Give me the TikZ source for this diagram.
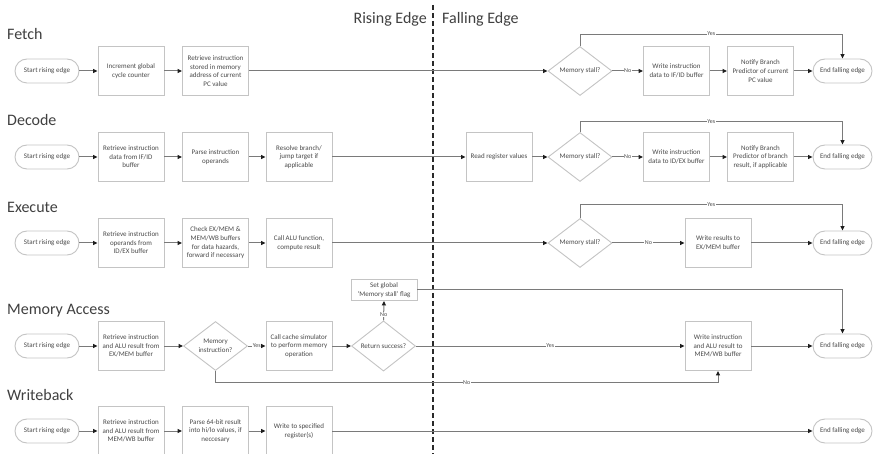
\documentclass[tikz,border=0pt]{standalone}
\usepackage{fontspec}
\setmainfont{Carlito}
\usetikzlibrary{shapes.geometric,shapes.misc,arrows.meta}

\definecolor{boxline}{HTML}{C4C4C4}
\definecolor{flowline}{HTML}{7A7A7A}
\definecolor{tipcol}{HTML}{1E1E1E}
\definecolor{txt}{HTML}{4A4A4A}
\definecolor{head}{HTML}{404040}
\definecolor{divider}{HTML}{2A2A2A}

\begin{document}
\begin{tikzpicture}[x=1pt,y=-1pt,
  every node/.style={text=txt},
  small/.style={font=\fontsize{7}{8.6}\selectfont},
  proc/.style={small, draw=boxline, line width=0.9pt, rectangle,
    minimum width=66pt, minimum height=49pt, align=center, inner sep=1pt},
  startbox/.style={small, draw=boxline, line width=0.9pt, rounded rectangle,
    minimum width=66pt, minimum height=24pt, inner sep=1pt},
  endbox/.style={startbox, minimum width=61pt},
  decision/.style={small, draw=boxline, line width=0.9pt, diamond,
    minimum width=64pt, minimum height=49pt, inner sep=0pt, align=center},
  flow/.style={draw=flowline, line width=1pt,
    -{Triangle[length=4.5pt,width=4pt,color=tipcol]}},
  lbl/.style={font=\fontsize{6}{7}\selectfont, fill=white, inner sep=0.6pt},
  title/.style={font=\fontsize{16}{18}\selectfont, text=head, inner sep=0pt}
]
% canvas
\fill[white] (0,0) rectangle (878,454);
\useasboundingbox (0,0) rectangle (878,454);

% clock-edge divider
\coordinate (divtop) at (433,5);
\coordinate (divbot) at (433,454);
\draw[divider, line width=1.7pt, dash pattern=on 5pt off 3pt] (divtop) -- (divbot);
\node[title, anchor=base east] (rising) at (427,24) {Rising Edge};
\node[title, anchor=base west] (falling) at (442,24) {Falling Edge};

% stage titles
\node[title, anchor=base west] (tF) at (7,40) {Fetch};
\node[title, anchor=base west] (tD) at (7,125.5) {Decode};
\node[title, anchor=base west] (tE) at (7,213) {Execute};
\node[title, anchor=base west] (tM) at (7,315) {Memory Access};
\node[title, anchor=base west] (tW) at (7,400) {Writeback};

% ---------- Fetch ----------
\node[startbox] (fS) at (47,71) {Start rising edge};
\node[proc] (f1) at (131,71) {Increment global\\cycle counter};
\node[proc] (f2) at (215.5,71) {Retrieve instruction\\stored in memory\\address of current\\PC value};
\node[decision] (fD) at (580,71) {Memory stall?};
\node[proc] (fW) at (676.5,71) {Write instruction\\data to IF/ID buffer};
\node[proc] (fN) at (760.5,71) {Notify Branch\\Predictor of current\\PC value};
\node[endbox] (fE) at (842.5,71) {End falling edge};

\draw[flow] (fS.east) -- (f1.west);
\draw[flow] (f1.east) -- (f2.west);
\draw[flow] (f2.east) -- (fD.west);
\draw[flow] (fD.east) -- node[lbl] {No} (fW.west);
\draw[flow] (fW.east) -- (fN.west);
\draw[flow] (fN.east) -- (fE.west);
\draw[flow] (fD.north) -- ++(0,-12) -| node[lbl, pos=0.25] {Yes} (fE.north);

% ---------- Decode ----------
\node[startbox] (dS) at (47,157) {Start rising edge};
\node[proc] (d1) at (131,157) {Retrieve instruction\\data from IF/ID\\buffer};
\node[proc] (d2) at (215.5,157) {Parse instruction\\operands};
\node[proc] (d3) at (299,157) {Resolve branch/\\jump target if\\applicable};
\node[proc] (dR) at (499,157) {Read register values};
\node[decision] (dD) at (580,157) {Memory stall?};
\node[proc] (dW) at (676.5,157) {Write instruction\\data to ID/EX buffer};
\node[proc] (dN) at (760.5,157) {Notify Branch\\Predictor of branch\\result, if applicable};
\node[endbox] (dE) at (842.5,157) {End falling edge};

\draw[flow] (dS.east) -- (d1.west);
\draw[flow] (d1.east) -- (d2.west);
\draw[flow] (d2.east) -- (d3.west);
\draw[flow] (d3.east) -- (dR.west);
\draw[flow] (dR.east) -- (dD.west);
\draw[flow] (dD.east) -- node[lbl] {No} (dW.west);
\draw[flow] (dW.east) -- (dN.west);
\draw[flow] (dN.east) -- (dE.west);
\draw[flow] (dD.north) -- ++(0,-10.5) -| node[lbl, pos=0.25] {Yes} (dE.north);

% ---------- Execute ----------
\node[startbox] (eS) at (47,243) {Start rising edge};
\node[proc] (e1) at (131,243) {Retrieve instruction\\operands from\\ID/EX buffer};
\node[proc] (e2) at (215.5,243) {Check EX/MEM \&\\MEM/WB buffers\\for data hazards,\\forward if necessary};
\node[proc] (e3) at (299,243) {Call ALU function,\\compute result};
\node[decision] (eD) at (580,243) {Memory stall?};
\node[proc] (eW) at (718,243) {Write results to\\EX/MEM buffer};
\node[endbox] (eE) at (842.5,243) {End falling edge};

\draw[flow] (eS.east) -- (e1.west);
\draw[flow] (e1.east) -- (e2.west);
\draw[flow] (e2.east) -- (e3.west);
\draw[flow] (e3.east) -- (eD.west);
\draw[flow] (eD.east) -- node[lbl] {No} (eW.west);
\draw[flow] (eW.east) -- (eE.west);
\draw[flow] (eD.north) -- ++(0,-13.5) -| node[lbl, pos=0.25] {Yes} (eE.north);

% ---------- Memory Access ----------
\node[startbox] (mS) at (47,346) {Start rising edge};
\node[proc] (m1) at (131,346) {Retrieve instruction\\and ALU result from\\EX/MEM buffer};
\node[decision] (mD) at (215.5,346) {Memory\\instruction?};
\node[proc] (mC) at (299,346) {Call cache simulator\\to perform memory\\operation};
\node[decision] (mR) at (383.5,346) {Return success?};
\node[proc, minimum height=21pt] (mF) at (384,290) {Set global\\`Memory stall' flag};
\node[proc] (mW) at (718,346) {Write instruction\\and ALU result to\\MEM/WB buffer};
\node[endbox] (mE) at (842.5,346) {End falling edge};

\draw[flow] (mS.east) -- (m1.west);
\draw[flow] (m1.east) -- (mD.west);
\draw[flow] (mD.east) -- node[lbl] {Yes} (mC.west);
\draw[flow] (mC.east) -- (mR.west);
\draw[flow] (mR.north) -- node[lbl, pos=0.3] {No} (mF.south);
\draw[flow] (mF.east) -| (mE.north);
\draw[flow] (mR.east) -- node[lbl] {Yes} (mW.west);
\draw[flow] (mD.south) -- ++(0,12) -| node[lbl, pos=0.25] {No} (mW.south);
\draw[flow] (mW.east) -- (mE.west);

% ---------- Writeback ----------
\node[startbox] (wS) at (47,431) {Start rising edge};
\node[proc] (w1) at (131,431) {Retrieve instruction\\and ALU result from\\MEM/WB buffer};
\node[proc] (w2) at (215.5,431) {Parse 64-bit result\\into hi/lo values, if\\neccesary};
\node[proc] (w3) at (299,431) {Write to specified\\register(s)};
\node[endbox] (wE) at (842.5,431) {End falling edge};

\draw[flow] (wS.east) -- (w1.west);
\draw[flow] (w1.east) -- (w2.west);
\draw[flow] (w2.east) -- (w3.west);
\draw[flow] (w3.east) -- (wE.west);
\end{tikzpicture}
\end{document}
